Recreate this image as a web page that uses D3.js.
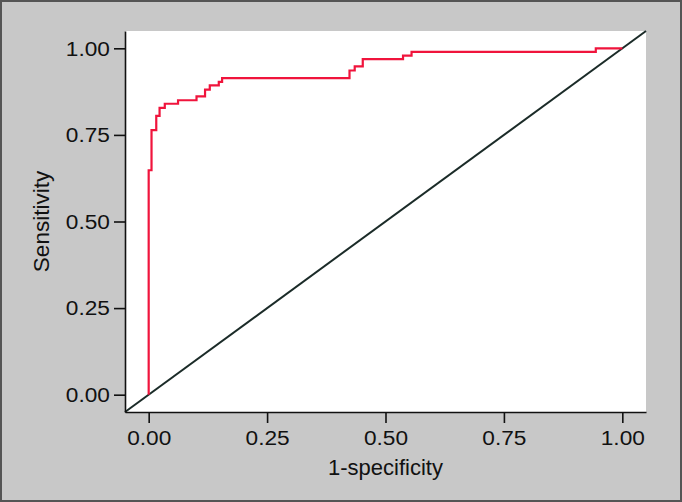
<!DOCTYPE html>
<html>
<head>
<meta charset="utf-8">
<script src="https://cdn.jsdelivr.net/npm/d3@7"></script>
<style>
  html, body { margin: 0; padding: 0; background: #fff; }
  svg { display: block; font-family: "Liberation Sans", Arial, sans-serif; }
</style>
</head>
<body>
<div id="chart"></div>
<script>
// ROC curve: step function of (1-specificity, sensitivity) plus reference diagonal.

const FPR = [0, 0.006, 0.016, 0.023, 0.034, 0.062, 0.101, 0.119, 0.129, 0.148, 0.155,
             0.424, 0.435, 0.452, 0.537, 0.555, 0.944, 1.000];
const TPR = [0, 0.648, 0.764, 0.805, 0.828, 0.840, 0.850, 0.861, 0.881, 0.893, 0.903,
             0.914, 0.936, 0.948, 0.969, 0.979, 0.990, 1.000];

const TICKS = [0, 0.25, 0.5, 0.75, 1];
const DOMAIN = [-0.05, 1.05];
const X_TITLE = "1-specificity";
const Y_TITLE = "Sensitivity";

const W = 682, H = 502;
const plot = { left: 125, right: 646, top: 31, bottom: 412 };

const svg = d3.select("#chart").append("svg").attr("width", W).attr("height", H);

// outer frame
svg.append("rect")
  .attr("x", 1).attr("y", 1).attr("width", W - 2).attr("height", H - 2)
  .attr("fill", "#c8c8c8").attr("stroke", "#555").attr("stroke-width", 2);

// plot area
svg.append("rect")
  .attr("x", plot.left).attr("y", plot.top)
  .attr("width", plot.right - plot.left).attr("height", plot.bottom - plot.top)
  .attr("fill", "#fff");

const x = d3.scaleLinear().domain(DOMAIN).range([plot.left, plot.right]);
const y = d3.scaleLinear().domain(DOMAIN).range([plot.bottom, plot.top]);

// reference diagonal
svg.append("line")
  .attr("x1", x(DOMAIN[0])).attr("y1", y(DOMAIN[0]))
  .attr("x2", x(DOMAIN[1])).attr("y2", y(DOMAIN[1]))
  .attr("stroke", "#1b2b28").attr("stroke-width", 2);

// ROC step curve
const pts = FPR.map((f, i) => [f, TPR[i]]);
svg.append("path")
  .datum(pts)
  .attr("fill", "none")
  .attr("stroke", "#f0143c")
  .attr("stroke-width", 2.2)
  .attr("d", d3.line().x(d => x(d[0])).y(d => y(d[1])).curve(d3.curveStepBefore));

const fmt = d3.format(".2f");

// tick labels in the source are a touch wider than Liberation Sans
const styleAxis = ax => {
  ax.select(".domain").attr("stroke", "#111").attr("stroke-width", 1.6);
  ax.selectAll(".tick line").attr("stroke", "#111").attr("stroke-width", 1.6);
  ax.selectAll(".tick text").attr("fill", "#111").style("font-size", "21px")
    .attr("transform", "scale(1.08,1)");
};

svg.append("g")
  .attr("transform", `translate(0,${plot.bottom})`)
  .call(d3.axisBottom(x).tickValues(TICKS).tickFormat(fmt).tickSize(11).tickSizeOuter(0).tickPadding(7))
  .call(styleAxis);

svg.append("g")
  .attr("transform", `translate(${plot.left},0)`)
  .call(d3.axisLeft(y).tickValues(TICKS).tickFormat(fmt).tickSize(11).tickSizeOuter(0).tickPadding(3))
  .call(styleAxis);

svg.append("text")
  .attr("x", (plot.left + plot.right) / 2).attr("y", 475)
  .attr("text-anchor", "middle").attr("fill", "#111").style("font-size", "22px")
  .text(X_TITLE);

svg.append("text")
  .attr("transform", `translate(49,${(plot.top + plot.bottom) / 2}) rotate(-90)`)
  .attr("text-anchor", "middle").attr("fill", "#111").style("font-size", "22.5px")
  .text(Y_TITLE);
</script>
</body>
</html>
